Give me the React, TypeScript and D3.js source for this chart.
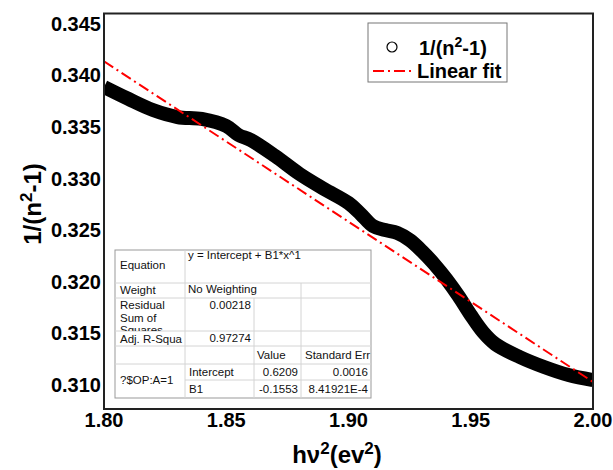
import React from "react";
import * as d3 from "d3";

const xValues = [1.80, 1.81, 1.82, 1.83, 1.84, 1.85, 1.855, 1.86, 1.87, 1.88, 1.89, 1.90, 1.905, 1.91, 1.915, 1.92, 1.925, 1.93, 1.935, 1.94, 1.945, 1.95, 1.955, 1.96, 1.97, 1.98, 1.99, 2.00];
const yValues = [0.33888, 0.33772, 0.33665, 0.33597, 0.33578, 0.33510, 0.33423, 0.33374, 0.33219, 0.33045, 0.32900, 0.32764, 0.32657, 0.32541, 0.32502, 0.32473, 0.32405, 0.32299, 0.32173, 0.32028, 0.31863, 0.31679, 0.31514, 0.31398, 0.31272, 0.31175, 0.31097, 0.31049];
const fitIntercept = 0.6209;
const fitSlope = -0.1553;
const xTicks = [1.80, 1.85, 1.90, 1.95, 2.00];
const yTicks = [0.310, 0.315, 0.320, 0.325, 0.330, 0.335, 0.340, 0.345];

const W = 613, H = 470;
const L = 104, R = 593, T = 13.5, B = 409;
const FONT = "Arial, 'Liberation Sans', sans-serif";

export default function App() {
  const x = d3.scaleLinear().domain([1.80, 2.00]).range([L, R]);
  const y = d3.scaleLinear().domain([0.30768, 0.3460]).range([B, T]);
  const pts = xValues.map((v, i) => [v, yValues[i]] as [number, number]);
  const line = d3.line<[number, number]>().x(d => x(d[0])).y(d => y(d[1])).curve(d3.curveCatmullRom);
  const fitX = [1.80, 2.00];
  const fitPts = fitX.map(v => [v, fitIntercept + fitSlope * v] as [number, number]);
  const fitLine = d3.line<[number, number]>().x(d => x(d[0])).y(d => y(d[1]));

  // table geometry
  const tx = [115, 185, 254, 301, 371];
  const ty = [250, 283, 298, 331, 346, 364, 380, 398];
  const light = "#d4d4d4";
  const tf = { fontFamily: FONT, fontSize: 11.5, fill: "#111" } as const;

  return (
    <svg width={W} height={H} style={{ position: "absolute", left: 0, top: 0, background: "#fff" }}>
      <defs>
        <clipPath id="plotclip"><rect x={L} y={T} width={R - L} height={B - T} /></clipPath>
        <clipPath id="rescell"><rect x={tx[0]} y={ty[2]} width={tx[1] - tx[0]} height={ty[3] - ty[2]} /></clipPath>
        <clipPath id="errcell"><rect x={tx[3]} y={ty[4]} width={tx[4] - tx[3]} height={ty[5] - ty[4]} /></clipPath>
      </defs>
      <rect x={0} y={0} width={W} height={H} fill="#fff" />
      <g clipPath="url(#plotclip)">
        <path d={line(pts) || ""} fill="none" stroke="#000" strokeWidth={14} strokeLinejoin="round" />
        <path d={fitLine(fitPts) || ""} fill="none" stroke="#ff0000" strokeWidth={2} strokeDasharray="11,4,2,4" />
      </g>
      {/* frame */}
      <rect x={L} y={T} width={R - L} height={B - T} fill="none" stroke="#222" strokeWidth={2} />

      {/* ticks labels */}
      {xTicks.map(t => (
        <text key={"x" + t} x={x(t)} y={427} textAnchor="middle" fontFamily={FONT} fontWeight="bold" fontSize={20} fill="#000">{t.toFixed(2)}</text>
      ))}
      {yTicks.map(t => (
        <text key={"y" + t} x={101} y={y(t) + 7} textAnchor="end" fontFamily={FONT} fontWeight="bold" fontSize={20} fill="#000">{t.toFixed(3)}</text>
      ))}

      {/* axis titles */}
      <text x={337} y={463} textAnchor="middle" fontFamily={FONT} fontWeight="bold" fontSize={24} fill="#000">
        hν<tspan dy={-9} fontSize={17}>2</tspan><tspan dy={9}>(ev</tspan><tspan dy={-9} fontSize={17}>2</tspan><tspan dy={9}>)</tspan>
      </text>
      <text transform="translate(41,204) rotate(-90)" textAnchor="middle" fontFamily={FONT} fontWeight="bold" fontSize={24} fill="#000">
        1/(n<tspan dy={-9} fontSize={17}>2</tspan><tspan dy={9}>-1)</tspan>
      </text>

      {/* legend */}
      <rect x={368} y={23} width={139} height={59} fill="#fff" stroke="#777" strokeWidth={1} />
      <circle cx={392} cy={47} r={5} fill="none" stroke="#000" strokeWidth={1.2} />
      <text x={419} y={55} fontFamily={FONT} fontWeight="bold" fontSize={20} fill="#000">
        1/(n<tspan dy={-8} fontSize={14}>2</tspan><tspan dy={8}>-1)</tspan>
      </text>
      <line x1={373} x2={413} y1={71} y2={71} stroke="#ff0000" strokeWidth={2} strokeDasharray="11,4,2,4" />
      <text x={417} y={78} fontFamily={FONT} fontWeight="bold" fontSize={20} fill="#000">Linear fit</text>

      {/* fit table */}
      <rect x={tx[0]} y={ty[0]} width={tx[4] - tx[0]} height={ty[7] - ty[0]} fill="#fff" stroke="#999" strokeWidth={1} />
      {[1, 2, 3, 4, 5].map(i => (
        <line key={"h" + i} x1={tx[0]} x2={tx[4]} y1={ty[i]} y2={ty[i]} stroke={light} />
      ))}
      <line x1={tx[1]} x2={tx[4]} y1={ty[6]} y2={ty[6]} stroke={light} />
      <line x1={tx[1]} x2={tx[1]} y1={ty[0]} y2={ty[7]} stroke={light} />
      <line x1={tx[2]} x2={tx[2]} y1={ty[2]} y2={ty[7]} stroke={light} />
      <line x1={tx[3]} x2={tx[3]} y1={ty[1]} y2={ty[7]} stroke={light} />

      <text x={120} y={269} {...tf}>Equation</text>
      <text x={188} y={259} {...tf}>y = Intercept + B1*x^1</text>
      <text x={120} y={294} {...tf}>Weight</text>
      <text x={188} y={293} {...tf}>No Weighting</text>
      <g clipPath="url(#rescell)">
        <text x={120} y={309} {...tf}>Residual</text>
        <text x={120} y={322} {...tf}>Sum of</text>
        <text x={120} y={334} {...tf}>Squares</text>
      </g>
      <text x={251} y={309} textAnchor="end" {...tf}>0.00218</text>
      <text x={120} y={343} {...tf}>Adj. R-Squa</text>
      <text x={251} y={342} textAnchor="end" {...tf}>0.97274</text>
      <text x={257} y={359} {...tf}>Value</text>
      <g clipPath="url(#errcell)">
        <text x={305} y={359} {...tf}>Standard Err</text>
      </g>
      <text x={120} y={384} {...tf}>?$OP:A=1</text>
      <text x={189} y={376} {...tf}>Intercept</text>
      <text x={298} y={376} textAnchor="end" {...tf}>0.6209</text>
      <text x={368} y={376} textAnchor="end" {...tf}>0.0016</text>
      <text x={189} y={393} {...tf}>B1</text>
      <text x={298} y={393} textAnchor="end" {...tf}>-0.1553</text>
      <text x={368} y={393} textAnchor="end" {...tf}>8.41921E-4</text>
    </svg>
  );
}
